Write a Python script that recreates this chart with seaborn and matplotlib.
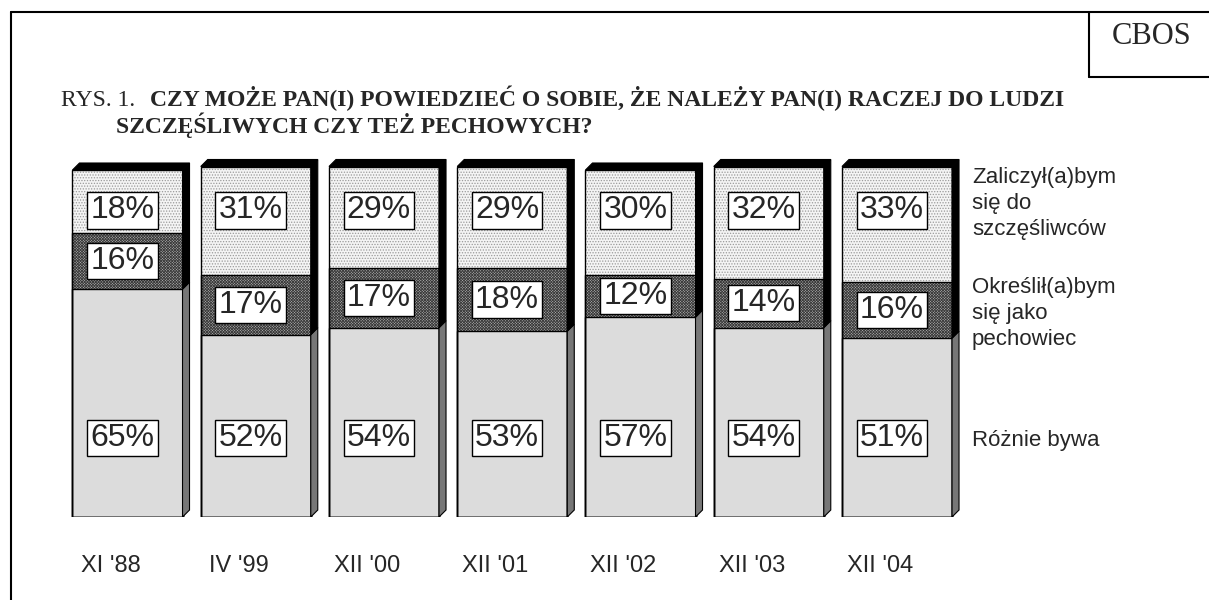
import pandas as pd
import numpy as np
import seaborn as sns
import matplotlib.pyplot as plt
from matplotlib.patches import Rectangle, Polygon
from matplotlib.lines import Line2D
import matplotlib.transforms as mtransforms

# data
okresy = ["XI '88", "IV '99", "XII '00", "XII '01", "XII '02", "XII '03", "XII '04"]
roznie = [65, 52, 54, 53, 57, 54, 51]
pechowiec = [16, 17, 17, 18, 12, 14, 16]
szczesliwi = [18, 31, 29, 29, 30, 32, 33]
opisy = ["Zaliczył(a)bym\nsię do\nszczęśliwców", "Określił(a)bym\nsię jako\npechowiec", "Różnie bywa"]

df = pd.DataFrame({"okres": okresy, "roznie": roznie, "pech": pechowiec, "szcz": szczesliwi})
df["c2"] = df["roznie"] + df["pech"]
df["c3"] = df["c2"] + df["szcz"]

sns.set_style("white")
plt.rcParams["font.family"] = ["Liberation Sans", "DejaVu Sans"]
plt.rcParams["hatch.linewidth"] = 0.6

W, H = 1209, 600
fig = plt.figure(figsize=(W / 100, H / 100), dpi=100)
# axes placed in pixel terms of the reference
x0px, spacing = 127.5, 128.25
ybase, scale = 517, 3.505
ax = fig.add_axes([(x0px - 0.6 * spacing) / W, (H - ybase) / H,
                   7.2 * spacing / W, 110 * scale / H])

bw = 0.858
# draw cumulative bars, tallest first
sns.barplot(data=df, x="okres", y="c3", color="#f4f4f4", saturation=1, width=bw, ax=ax)
sns.barplot(data=df, x="okres", y="c2", color="#b0b0b0", saturation=1, width=bw, ax=ax)
sns.barplot(data=df, x="okres", y="roznie", color="#dcdcdc", saturation=1, width=bw, ax=ax)
ax.set_xlim(-0.6, 6.6)
ax.set_ylim(0, 110)

n = len(okresy)
top_p = ax.patches[0:n]
mid_p = ax.patches[n:2 * n]
bot_p = ax.patches[2 * n:3 * n]
for p in top_p:
    p.set_hatch("......")
    p.set_edgecolor("#9a9a9a")
    p.set_linewidth(0)
for p in mid_p:
    p.set_hatch("xxxxxxxxxxxx")
    p.set_edgecolor("#3c3c3c")
    p.set_linewidth(0)
for p in bot_p:
    p.set_linewidth(0)

dx = 7 / spacing
dy = 7 / scale
for pt, pm, pb in zip(top_p, mid_p, bot_p):
    xl = pt.get_x()
    xr = xl + pt.get_width()
    hb, hm, ht = pb.get_height(), pm.get_height(), pt.get_height()
    # outlines of the segments
    for h in (hb, hm, ht):
        ax.add_patch(Rectangle((xl, 0), pt.get_width(), h, fill=False,
                               ec="black", lw=1, zorder=3))
    # 3d right side
    ax.add_patch(Polygon([(xr, 0), (xr + dx, dy), (xr + dx, hb + dy), (xr, hb)],
                         closed=True, fc="#777777", ec="black", lw=0.8, zorder=3))
    ax.add_patch(Polygon([(xr, hb), (xr + dx, hb + dy), (xr + dx, ht + dy), (xr, ht)],
                         closed=True, fc="black", ec="black", lw=0.8, zorder=3))
    # 3d top
    ax.add_patch(Polygon([(xl, ht), (xl + dx, ht + dy), (xr + dx, ht + dy), (xr, ht)],
                         closed=True, fc="black", ec="black", lw=0.8, zorder=3))

# value labels
box = dict(boxstyle="square,pad=0.1", fc="white", ec="black", lw=1)
for i in range(n):
    xc = i - 0.04
    ax.text(xc, 22.5, f"{roznie[i]}%", ha="center", va="center", fontsize=23, bbox=box, zorder=5)
    ax.text(xc, roznie[i] + pechowiec[i] / 2, f"{pechowiec[i]}%", ha="center", va="center",
            fontsize=23, bbox=box, zorder=5)
    ax.text(xc, 87.5, f"{szczesliwi[i]}%", ha="center", va="center", fontsize=23, bbox=box, zorder=5)

# series descriptions on the right
for txt, y in zip(opisy, [89.5, 58.0, 21.8]):
    ax.text(6.585, y, txt, ha="left", va="center", fontsize=16, linespacing=1.3)

# category labels
ax.set_xlabel("")
ax.set_ylabel("")
ax.set_yticks([])
ax.tick_params(axis="x", length=0, pad=27, labelsize=17)
shift = mtransforms.ScaledTranslation(-17 / 100, 0, fig.dpi_scale_trans)
for lab in ax.get_xticklabels():
    lab.set_transform(lab.get_transform() + shift)
sns.despine(ax=ax, left=True, bottom=True)

# frame and CBOS box
fig.add_artist(Line2D([11 / W, 11 / W], [0, 1 - 12 / H], color="black", lw=1.5))
fig.add_artist(Line2D([11 / W, 1], [1 - 12 / H, 1 - 12 / H], color="black", lw=1.5))
fig.add_artist(Line2D([1089 / W, 1089 / W], [1 - 12 / H, 1 - 77 / H], color="black", lw=1.5))
fig.add_artist(Line2D([1089 / W, 1], [1 - 77 / H, 1 - 77 / H], color="black", lw=1.5))
fig.text(1152 / W, 1 - 36 / H, "CBOS", ha="center", va="center", fontsize=22,
         family="Liberation Serif")

# title
fig.text(61 / W, 1 - 106 / H, "RYS. 1.", ha="left", va="baseline", fontsize=17,
         family="Liberation Serif")
fig.text(150 / W, 1 - 106 / H,
         "CZY MOŻE PAN(I) POWIEDZIEĆ O SOBIE, ŻE NALEŻY PAN(I) RACZEJ DO LUDZI",
         ha="left", va="baseline", fontsize=17, fontweight="bold", family="Liberation Serif")
fig.text(116 / W, 1 - 133 / H, "SZCZĘŚLIWYCH CZY TEŻ PECHOWYCH?",
         ha="left", va="baseline", fontsize=17, fontweight="bold", family="Liberation Serif")

fig.savefig("out.png", dpi=100, facecolor="white")
